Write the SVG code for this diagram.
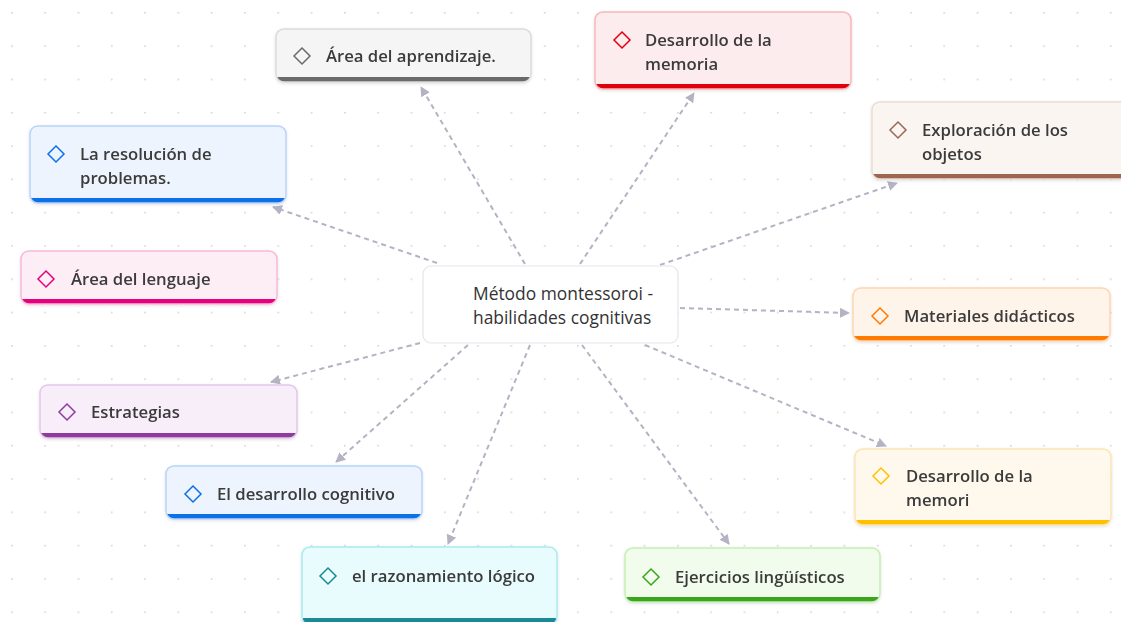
<svg xmlns="http://www.w3.org/2000/svg" width="1121" height="622" viewBox="0 0 1121 622">
<defs>
<pattern id="dots" x="11" y="12" width="33.3" height="33.3" patternUnits="userSpaceOnUse">
<circle cx="0.8" cy="0.8" r="1" fill="#d6d6dc"/>
</pattern>
<marker id="arr" viewBox="0 0 10 10" refX="9" refY="5" markerWidth="5" markerHeight="5" orient="auto" markerUnits="strokeWidth">
<path d="M0,0 L10,5 L0,10 z" fill="#b3b3c3"/>
</marker>
<filter id="sh" x="-10%" y="-20%" width="120%" height="150%">
<feDropShadow dx="0" dy="1" stdDeviation="1.5" flood-color="#000" flood-opacity="0.12"/>
</filter>
<style>
.lbl{font-family:"Segoe UI","Open Sans","Noto Sans","Liberation Sans",sans-serif;font-size:16.7px;font-weight:600;fill:#3a3a3a}
.ctr{font-family:"Segoe UI","Open Sans","Noto Sans","Liberation Sans",sans-serif;font-size:17.4px;font-weight:500;fill:#333}
.con{fill:none;stroke:#b3b3c3;stroke-width:2;stroke-dasharray:5 4;marker-end:url(#arr)}
.dia{fill:none;stroke-width:1.5}
</style>
</defs>
<rect width="1121" height="622" fill="#ffffff"/>
<rect width="1121" height="622" fill="url(#dots)"/>

<g id="connectors">
<path class="con" d="M525,264 L421,87"/>
<path class="con" d="M580,264 L694,93"/>
<path class="con" d="M660,265 L897,183"/>
<path class="con" d="M437,263 L273,207"/>
<path class="con" d="M680,308 L849,313"/>
<path class="con" d="M420,343 L271,382"/>
<path class="con" d="M645,345 L886,446"/>
<path class="con" d="M468,345 L336,462"/>
<path class="con" d="M530,345 L448,544"/>
<path class="con" d="M582,345 L729,544"/>
</g>

<g id="center">
<rect x="423" y="266" width="255" height="77" rx="8" fill="#ffffff" stroke="#e6e6ea" stroke-width="1.2"/>
<text class="ctr" x="473" y="300">Método montessoroi -</text>
<text class="ctr" x="473" y="324">habilidades cognitivas</text>
</g>

<g id="n-aprendizaje" filter="url(#sh)">
<rect x="276" y="29" width="255" height="53" rx="8" fill="#6b6b6b"/>
<rect x="276" y="29" width="255" height="48" rx="8" fill="#f5f5f5"/>
<rect x="276" y="65" width="255" height="12" fill="#f5f5f5"/>
<rect x="276" y="29" width="255" height="53" rx="8" fill="none" stroke="#dcdcdc" stroke-width="1.5"/>
<path class="dia" stroke="#6b6b6b" d="M302,48 L310,56 L302,64 L294,56 z"/>
<text class="lbl" x="326" y="62">Área del aprendizaje.</text>
</g>

<g id="n-memoria" filter="url(#sh)">
<rect x="595" y="12" width="256" height="77" rx="8" fill="#e0000f"/>
<rect x="595" y="12" width="256" height="72" rx="8" fill="#fdeced"/>
<rect x="595" y="72" width="256" height="12" fill="#fdeced"/>
<rect x="595" y="12" width="256" height="77" rx="8" fill="none" stroke="#f6b8bb" stroke-width="1.5"/>
<path class="dia" stroke="#e0000f" d="M622,32 L630,40 L622,48 L614,40 z"/>
<text class="lbl" x="645" y="46">Desarrollo de la</text>
<text class="lbl" x="645" y="70">memoria</text>
</g>

<g id="n-exploracion" filter="url(#sh)">
<rect x="872" y="102" width="258" height="77" rx="8" fill="#9c6650"/>
<rect x="872" y="102" width="258" height="72" rx="8" fill="#fbf5f2"/>
<rect x="872" y="162" width="258" height="12" fill="#fbf5f2"/>
<rect x="872" y="102" width="258" height="77" rx="8" fill="none" stroke="#ecdcd4" stroke-width="1.5"/>
<path class="dia" stroke="#9c6650" d="M898,122 L906,130 L898,138 L890,130 z"/>
<text class="lbl" x="922" y="136">Exploración de los</text>
<text class="lbl" x="922" y="160">objetos</text>
</g>

<g id="n-resolucion" filter="url(#sh)">
<rect x="30" y="126" width="256" height="77" rx="8" fill="#0a6fe8"/>
<rect x="30" y="126" width="256" height="72" rx="8" fill="#eef4fe"/>
<rect x="30" y="186" width="256" height="12" fill="#eef4fe"/>
<rect x="30" y="126" width="256" height="77" rx="8" fill="none" stroke="#b8d4fa" stroke-width="1.5"/>
<path class="dia" stroke="#0a6fe8" d="M56,146 L64,154 L56,162 L48,154 z"/>
<text class="lbl" x="80" y="160">La resolución de</text>
<text class="lbl" x="80" y="184">problemas.</text>
</g>

<g id="n-lenguaje" filter="url(#sh)">
<rect x="21" y="251" width="256" height="53" rx="8" fill="#e5007e"/>
<rect x="21" y="251" width="256" height="48" rx="8" fill="#fdeef6"/>
<rect x="21" y="287" width="256" height="12" fill="#fdeef6"/>
<rect x="21" y="251" width="256" height="53" rx="8" fill="none" stroke="#f8b9da" stroke-width="1.5"/>
<path class="dia" stroke="#e5007e" d="M46,271 L54,279 L46,287 L38,279 z"/>
<text class="lbl" x="71" y="285">Área del lenguaje</text>
</g>

<g id="n-materiales" filter="url(#sh)">
<rect x="853" y="288" width="257" height="53" rx="8" fill="#ff7a00"/>
<rect x="853" y="288" width="257" height="48" rx="8" fill="#fff4ea"/>
<rect x="853" y="324" width="257" height="12" fill="#fff4ea"/>
<rect x="853" y="288" width="257" height="53" rx="8" fill="none" stroke="#ffd6b0" stroke-width="1.5"/>
<path class="dia" stroke="#ff7a00" d="M880,308 L888,316 L880,324 L872,316 z"/>
<text class="lbl" x="904" y="322">Materiales didácticos</text>
</g>

<g id="n-estrategias" filter="url(#sh)">
<rect x="40" y="385" width="257" height="53" rx="8" fill="#8e3a9e"/>
<rect x="40" y="385" width="257" height="48" rx="8" fill="#f8eefa"/>
<rect x="40" y="421" width="257" height="12" fill="#f8eefa"/>
<rect x="40" y="385" width="257" height="53" rx="8" fill="none" stroke="#e4c6ea" stroke-width="1.5"/>
<path class="dia" stroke="#8e3a9e" d="M67,404 L75,412 L67,420 L59,412 z"/>
<text class="lbl" x="91" y="418">Estrategias</text>
</g>

<g id="n-memori" filter="url(#sh)">
<rect x="855" y="449" width="256" height="76" rx="8" fill="#ffc000"/>
<rect x="855" y="449" width="256" height="71" rx="8" fill="#fff8ec"/>
<rect x="855" y="508" width="256" height="12" fill="#fff8ec"/>
<rect x="855" y="449" width="256" height="76" rx="8" fill="none" stroke="#fde5b0" stroke-width="1.5"/>
<path class="dia" stroke="#ffc000" d="M881,468 L889,476 L881,484 L873,476 z"/>
<text class="lbl" x="906" y="482">Desarrollo de la</text>
<text class="lbl" x="906" y="506">memori</text>
</g>

<g id="n-cognitivo" filter="url(#sh)">
<rect x="166" y="466" width="256" height="53" rx="8" fill="#0a6fe8"/>
<rect x="166" y="466" width="256" height="48" rx="8" fill="#eef4fe"/>
<rect x="166" y="502" width="256" height="12" fill="#eef4fe"/>
<rect x="166" y="466" width="256" height="53" rx="8" fill="none" stroke="#b8d4fa" stroke-width="1.5"/>
<path class="dia" stroke="#0a6fe8" d="M193,486 L201,494 L193,502 L185,494 z"/>
<text class="lbl" x="217" y="500">El desarrollo cognitivo</text>
</g>

<g id="n-razonamiento" filter="url(#sh)">
<rect x="302" y="547" width="255" height="78" rx="8" fill="#1a8a96"/>
<rect x="302" y="547" width="255" height="71" rx="8" fill="#e8fbfd"/>
<rect x="302" y="606" width="255" height="12" fill="#e8fbfd"/>
<rect x="302" y="547" width="255" height="78" rx="8" fill="none" stroke="#a8ecf2" stroke-width="1.5"/>
<path class="dia" stroke="#1a8a96" d="M328,568 L336,576 L328,584 L320,576 z"/>
<text class="lbl" x="352" y="582">el razonamiento lógico</text>
</g>

<g id="n-ejercicios" filter="url(#sh)">
<rect x="625" y="548" width="255" height="54" rx="8" fill="#3aa51a"/>
<rect x="625" y="548" width="255" height="49" rx="8" fill="#f1fcec"/>
<rect x="625" y="585" width="255" height="12" fill="#f1fcec"/>
<rect x="625" y="548" width="255" height="54" rx="8" fill="none" stroke="#c4f0b4" stroke-width="1.5"/>
<path class="dia" stroke="#3aa51a" d="M651,569 L659,577 L651,585 L643,577 z"/>
<text class="lbl" x="675" y="583">Ejercicios lingüísticos</text>
</g>
</svg>
